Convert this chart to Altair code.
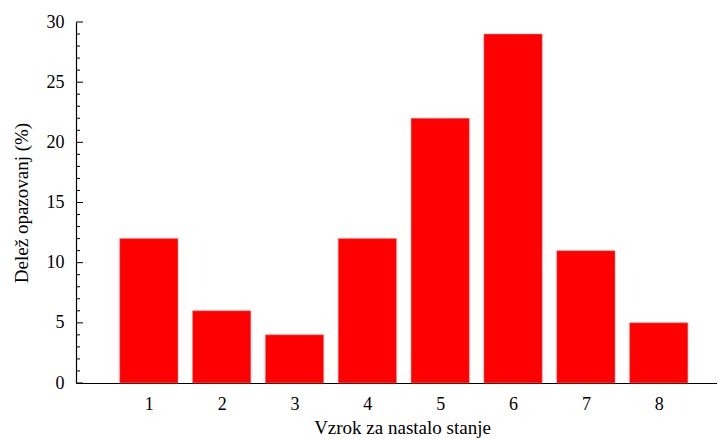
import altair as alt
import pandas as pd

categories = [1, 2, 3, 4, 5, 6, 7, 8]
values = [12, 6, 4, 12, 22, 29, 11, 5]
y_major = [0, 5, 10, 15, 20, 25, 30]
y_minor = [v for v in range(0, 31) if v % 5 != 0]

df = pd.DataFrame({"cat": categories, "val": values})
df_major = pd.DataFrame({"t": y_major})
df_minor = pd.DataFrame({"t": y_minor})

FONT = "Liberation Serif, Times New Roman, serif"
W, H = 641, 361
LABEL_FS, TITLE_FS = 18, 19

xscale = alt.Scale(domain=[0, 8.8], nice=False, zero=False)
yscale = alt.Scale(domain=[0, 30], nice=False)

bars = alt.Chart(df).transform_calculate(
    x0="datum.cat - 0.4", x1="datum.cat + 0.4"
).mark_bar(color="#ff0000", stroke="#ff8080", strokeWidth=0.5).encode(
    x=alt.X("x0:Q", scale=xscale,
            axis=alt.Axis(values=categories, title="Vzrok za nastalo stanje",
                          ticks=False, grid=False, labelPadding=12,
                          titlePadding=5, titleX=326, domainColor="black", domainWidth=1.2,
                          labelFont=FONT, titleFont=FONT, labelFontSize=LABEL_FS,
                          titleFontSize=TITLE_FS)),
    x2="x1:Q",
    y=alt.Y("val:Q", scale=yscale,
            axis=alt.Axis(values=y_major, title="Delež opazovanj (%)",
                          ticks=False, grid=False, labelPadding=12,
                          titlePadding=15, domainColor="black", domainWidth=1.2,
                          labelFont=FONT, titleFont=FONT, labelFontSize=LABEL_FS,
                          titleFontSize=TITLE_FS)),
    y2=alt.datum(0),
)

major = alt.Chart(df_major).mark_rule(color="black", strokeWidth=1).encode(
    y=alt.Y("t:Q", scale=yscale),
    x=alt.value(0), x2=alt.value(7),
)
minor = alt.Chart(df_minor).mark_rule(color="black", strokeWidth=1).encode(
    y=alt.Y("t:Q", scale=yscale),
    x=alt.value(0), x2=alt.value(4),
)

chart = alt.layer(bars, major, minor).properties(
    width=W, height=H,
    autosize=alt.AutoSizeParams(type="none"),
    padding={"left": 68, "top": 14, "right": 0, "bottom": 55},
).configure_view(stroke=None).configure_axis(
    labelFont=FONT, titleFont=FONT, labelFontSize=LABEL_FS, titleFontSize=TITLE_FS,
    labelColor="black", titleColor="black", titleFontWeight="normal",
)

chart.save("out.html", embed_options={"renderer": "svg", "actions": False})
